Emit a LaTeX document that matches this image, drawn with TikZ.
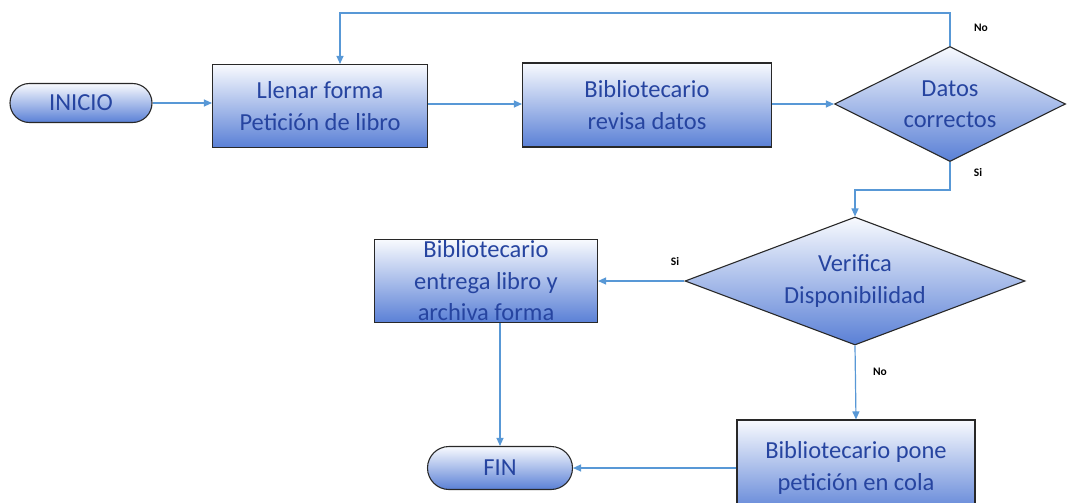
\documentclass[tikz,border=0pt]{standalone}
\usepackage{fontspec}
\setmainfont{Carlito}
\usetikzlibrary{shapes.geometric,shapes.misc,arrows.meta}
\definecolor{flowline}{RGB}{88,152,214}
\definecolor{boxtext}{RGB}{38,68,160}
\definecolor{boxedge}{RGB}{40,40,40}
\definecolor{fillbottom}{RGB}{90,128,214}
\definecolor{fillmid}{RGB}{205,220,244}
\definecolor{filltop}{RGB}{248,250,254}
\tikzset{
  filled/.style={draw=boxedge, line width=1.1pt, top color=filltop, middle color=fillmid, bottom color=fillbottom,
    text=boxtext, font=\fontsize{24.5}{31.5}\selectfont, align=center, inner sep=0pt},
  terminal/.style={filled, rounded rectangle},
  process/.style={filled, rectangle},
  decision/.style={filled, diamond, shape aspect=2},
  flow/.style={draw=flowline, line width=1.2pt, -{Triangle[length=8pt,width=7pt]}},
  tag/.style={font=\bfseries\fontsize{11.5}{13}\selectfont, text=black}
}
\begin{document}
\begin{tikzpicture}[x=1pt,y=-1pt]
  \useasboundingbox (0,0) rectangle (1068,503);
  \clip (0,0) rectangle (1068,503);
  \fill[white] (0,0) rectangle (1068,503);

  % process nodes
  \node[terminal, minimum width=142pt, minimum height=39pt] (inicio) at (81,103) {INICIO};
  \node[process, minimum width=215pt, minimum height=83pt] (llenar) at (320,106) {Llenar forma\\Petición de libro};
  \node[process, minimum width=249pt, minimum height=84pt] (revisa) at (647,105) {Bibliotecario\\revisa datos};
  \node[decision, minimum width=231pt, minimum height=115pt] (datos) at (950,104) {Datos\\correctos};
  \node[decision, minimum width=340pt, minimum height=128pt] (verifica) at (855,281) {Verifica\\Disponibilidad};
  \node[process, minimum width=223pt, minimum height=83pt] (entrega) at (486,281) {Bibliotecario\\entrega libro y\\archiva forma};
  \node[terminal, minimum width=145pt, minimum height=43pt] (fin) at (500,468) {FIN};
  \node[process, minimum width=238pt, minimum height=96pt] (pone) at (856,468) {Bibliotecario pone\\petición en cola};

  % loop and bend points
  \coordinate (looptop) at (340,13);
  \coordinate (sibend) at (855,190);

  % connectors
  \draw[flow] (inicio.east) -- (inicio.east -| llenar.west);
  \draw[flow] (llenar.east |- 0,104) -- (revisa.west |- 0,104);
  \draw[flow] (revisa.east |- datos.west) -- (datos.west);
  \draw[flow] (datos.north) |- (looptop) -- (looptop |- llenar.north);
  \draw[flow] (datos.south) |- (sibend) -- (verifica.north);
  \draw[flow] (verifica.west) -- (entrega.east |- verifica.west);
  \draw[flow] (verifica.south) -- (pone.north);
  \draw[flow] (entrega.south -| fin.north) -- (fin.north);
  \draw[flow] (pone.west) -- (fin.east);

  % branch labels
  \node[tag] (no1) at (981,28) {No};
  \node[tag] (si1) at (978,173) {Si};
  \node[tag] (si2) at (675,262) {Si};
  \node[tag] (no2) at (880,372) {No};
\end{tikzpicture}
\end{document}
